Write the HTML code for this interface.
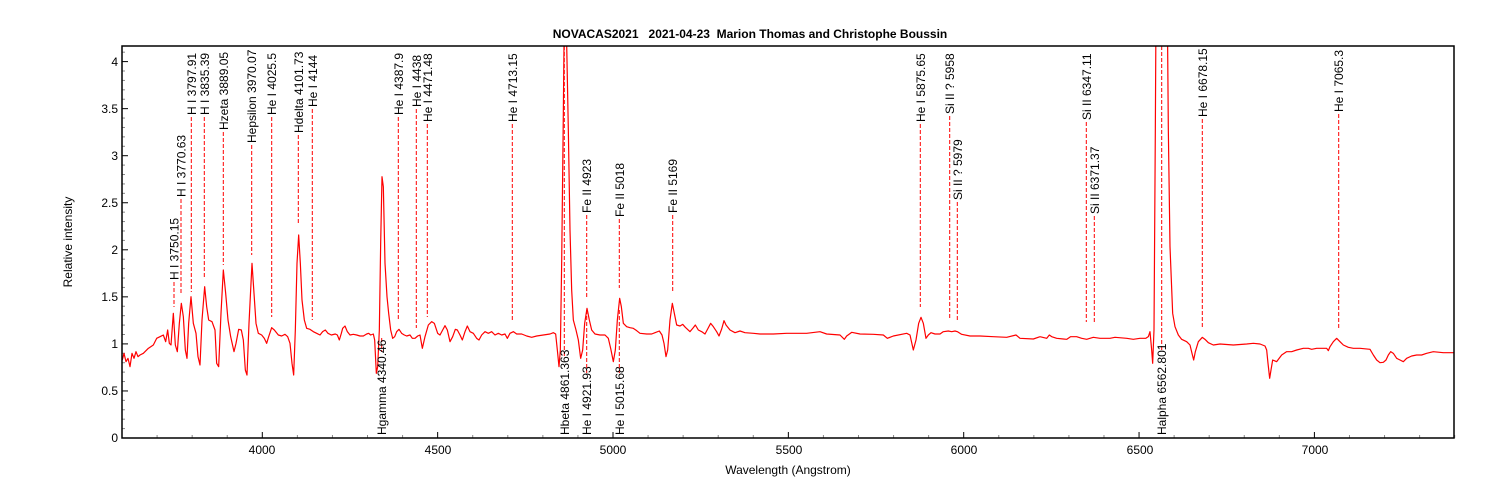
<!DOCTYPE html>
<html><head><meta charset="utf-8"><style>
html,body{margin:0;padding:0;background:#fff;}
svg{display:block;font-family:"Liberation Sans",Arial,sans-serif;}
</style></head><body>
<svg width="1500" height="500" viewBox="0 0 1500 500" xmlns="http://www.w3.org/2000/svg">
<defs><clipPath id="c"><rect x="122" y="46" width="1332" height="392"/></clipPath></defs>
<text x="750" y="38" text-anchor="middle" font-size="12" font-weight="bold" style="white-space:pre" xml:space="preserve">NOVACAS2021   2021-04-23  Marion Thomas and Christophe Boussin</text>
<text transform="translate(72,242) rotate(-90)" text-anchor="middle" font-size="12">Relative intensity</text>
<text x="788" y="474" text-anchor="middle" font-size="12">Wavelength (Angstrom)</text>
<g font-size="12" text-anchor="end">
<text x="118" y="442">0</text><text x="118" y="395">0.5</text><text x="118" y="348">1</text><text x="118" y="301">1.5</text><text x="118" y="254">2</text><text x="118" y="207">2.5</text><text x="118" y="160">3</text><text x="118" y="113">3.5</text><text x="118" y="66">4</text>
</g>
<g font-size="12" text-anchor="middle">
<text x="262" y="454">4000</text><text x="438" y="454">4500</text><text x="613" y="454">5000</text><text x="789" y="454">5500</text><text x="964" y="454">6000</text><text x="1140" y="454">6500</text><text x="1315" y="454">7000</text>
</g>
<g id="ticks"></g>
<g clip-path="url(#c)" fill="none" stroke="#ff0000" stroke-width="1.2" stroke-linejoin="round">
<path transform="translate(100,30) scale(0.3333333)" vector-effect="non-scaling-stroke" d="M67,990 L72,970 78,995 84,985 90,1010 96,970 102,985 108,965 114,980 120,975 130,970 145,955 160,945 170,925 180,920 190,915 197,935 203,900 208,940 213,945 220,850 226,945 232,965 238,880 244,820 250,860 256,960 261,985 266,880 273,800 280,880 288,910 294,980 300,1005 306,870 314,770 320,830 326,870 336,875 345,900 350,1000 356,1010 363,850 370,720 377,790 384,870 392,920 402,965 408,940 416,898 424,900 430,930 436,1020 441,1035 447,880 456,700 462,790 468,880 475,910 485,915 493,925 500,940 506,920 515,893 523,900 535,915 545,918 555,913 563,920 570,940 576,1000 581,1035 586,900 591,700 596,615 601,700 606,810 613,870 620,895 630,898 640,905 650,910 660,915 668,905 676,900 684,910 694,915 706,912 712,915 718,930 724,910 728,895 735,888 742,905 750,915 760,913 770,915 780,918 790,918 800,912 806,910 812,915 820,912 824,930 829,1030 833,1010 838,900 842,640 846,440 850,470 855,700 861,800 866,850 872,900 878,925 884,920 890,905 897,898 905,910 913,915 920,918 930,915 937,925 945,925 953,918 960,915 967,955 975,920 985,885 995,875 1003,880 1013,910 1020,915 1028,900 1035,887 1042,900 1050,935 1058,920 1066,898 1072,900 1080,915 1087,930 1095,905 1102,888 1110,905 1120,910 1130,925 1137,930 1145,915 1155,905 1165,910 1175,905 1185,915 1195,910 1205,915 1215,912 1222,925 1230,910 1240,905 1250,912 1265,912 1280,918 1295,922 1310,918 1330,915 1350,912 1360,908 1367,912 1372,960 1377,1010 1381,960 1385,700 1390,250 1393,-60 L1400,-60"/>
<path transform="translate(540,30) scale(0.3333333)" vector-effect="non-scaling-stroke" d="M78,-60 L80,40 85,300 90,600 95,780 100,870 108,900 115,930 122,985 128,960 134,880 141,835 148,870 155,900 165,912 180,915 195,915 205,925 212,955 220,995 226,960 232,870 239,805 244,830 250,880 260,890 270,893 280,895 290,902 300,910 320,912 335,912 345,908 358,903 366,915 372,940 378,980 383,960 390,870 397,820 403,850 410,885 420,888 428,883 436,892 450,905 460,893 466,885 475,900 485,905 495,912 503,897 512,880 520,890 530,905 537,918 545,897 552,872 558,885 570,900 585,908 600,903 615,908 640,910 660,912 700,912 740,910 800,910 840,905 860,912 900,915 913,928 920,918 935,907 960,912 1000,913 1030,915 1042,925 1060,918 1100,910 1110,915 1120,960 1128,930 1136,880 1143,862 1150,880 1158,925 1165,915 1173,908 1185,912 1200,912 1210,905 1225,903 1235,905 1245,903 1252,905 1265,913 1290,918 1320,918 1360,920 1400,922 1428,915 1440,925 1480,927 1500,920"/>
<path transform="translate(1000,30) scale(0.3333333)" vector-effect="non-scaling-stroke" d="M120,920 L140,925 148,915 155,920 170,925 190,927 200,928 212,920 230,920 245,925 260,928 280,922 300,925 330,925 345,922 380,925 400,928 420,925 437,925 445,920 450,905 455,960 458,1000 462,900 466,300 468,-60 L502,-60 505,300 510,650 518,850 525,890 535,915 545,928 560,935 570,945 576,970 581,990 586,965 595,935 607,922 615,928 625,938 640,945 660,942 700,945 740,942 760,940 780,942 795,948 800,960 804,1000 809,1045 813,1020 818,990 823,992 830,995 845,975 860,965 875,965 890,960 910,955 925,955 935,958 950,955 980,955 985,962 990,950 1000,935 1010,925 1020,935 1030,945 1045,952 1060,955 1080,955 1110,958 1120,975 1130,990 1140,998 1150,997 1158,990 1165,975 1172,965 1180,970 1190,985 1200,990 1210,995 1220,985 1235,978 1250,975 1265,975 1280,970 1300,965 1330,968 1362,968"/>
</g>
<g id="marks"></g>
<rect x="122" y="46" width="1332" height="392" fill="none" stroke="#000" stroke-width="1.5"/>
<script>
var ns="http://www.w3.org/2000/svg";
function el(p,t,a,txt){var e=document.createElementNS(ns,t);for(var k in a)e.setAttribute(k,a[k]);if(txt)e.textContent=txt;p.appendChild(e);return e;}
var tk=document.getElementById("ticks");
for(var i=0;i<=41;i++){var y=438-i*9.41;var maj=(i%5==0);el(tk,"line",{x1:122,x2:maj?128:125,y1:y,y2:y,stroke:maj?"#000":"#888"});}
for(var l=3700;l<=7400;l+=100){var x=262.3+(l-4000)*0.3507;var maj=(l%500==0);el(tk,"line",{x1:x,x2:x,y1:438,y2:maj?432:435,stroke:maj?"#000":"#888"});}
var up=[[174,280,307,"H I 3750.15"],[181,197,295,"H I 3770.63"],[191.3,115,292,"H I 3797.91"],[204.3,115,278,"H I 3835.39"],[223.3,130,265,"Hzeta 3889.05"],[251.7,143,255,"Hepsilon 3970.07"],[271.7,115,317,"He I 4025.5"],[298.3,133,225,"Hdelta 4101.73"],[312.3,107,320,"He I 4144"],[398.3,115,320,"He I 4387.9"],[416.3,107,328,"He I 4438"],[427.3,122,317,"He I 4471.48"],[512.3,122,322,"He I 4713.15"],[586.7,213,298,"Fe II 4923"],[619.3,217,288,"Fe II 5018"],[672.7,213,293,"Fe II 5169"],[920.3,122,307,"He I 5875.65"],[949.7,114,320,"Si II ? 5958"],[957.3,200,321,"Si II ? 5979"],[1086.3,120,322,"Si II 6347.11"],[1094.3,214,322,"Si II 6371.37"],[1202.3,117,327,"He I 6678.15"],[1338.7,112,330,"He I 7065.3"]];
var dn=[[381.7,338,352,"Hgamma 4340.46"],[564.3,46,358,"Hbeta 4861.363"],[586.7,310,373,"He I 4921.93"],[619.3,310,373,"He I 5015.68"],[1161.7,46,352,"Halpha 6562.801"]];
var m=document.getElementById("marks");
up.forEach(function(d){el(m,"line",{x1:d[0],x2:d[0],y1:d[1]+2,y2:d[2],stroke:"#ff0000","stroke-dasharray":"4,2"});el(m,"text",{transform:"translate("+(d[0]+4.5)+","+d[1]+") rotate(-90)","font-size":"12"},d[3]);});
dn.forEach(function(d){el(m,"line",{x1:d[0],x2:d[0],y1:d[1],y2:d[2],stroke:"#ff0000","stroke-dasharray":"4,2"});el(m,"text",{transform:"translate("+(d[0]+4.5)+",435) rotate(-90)","font-size":"12"},d[3]);});
</script>
</svg>
</body></html>
